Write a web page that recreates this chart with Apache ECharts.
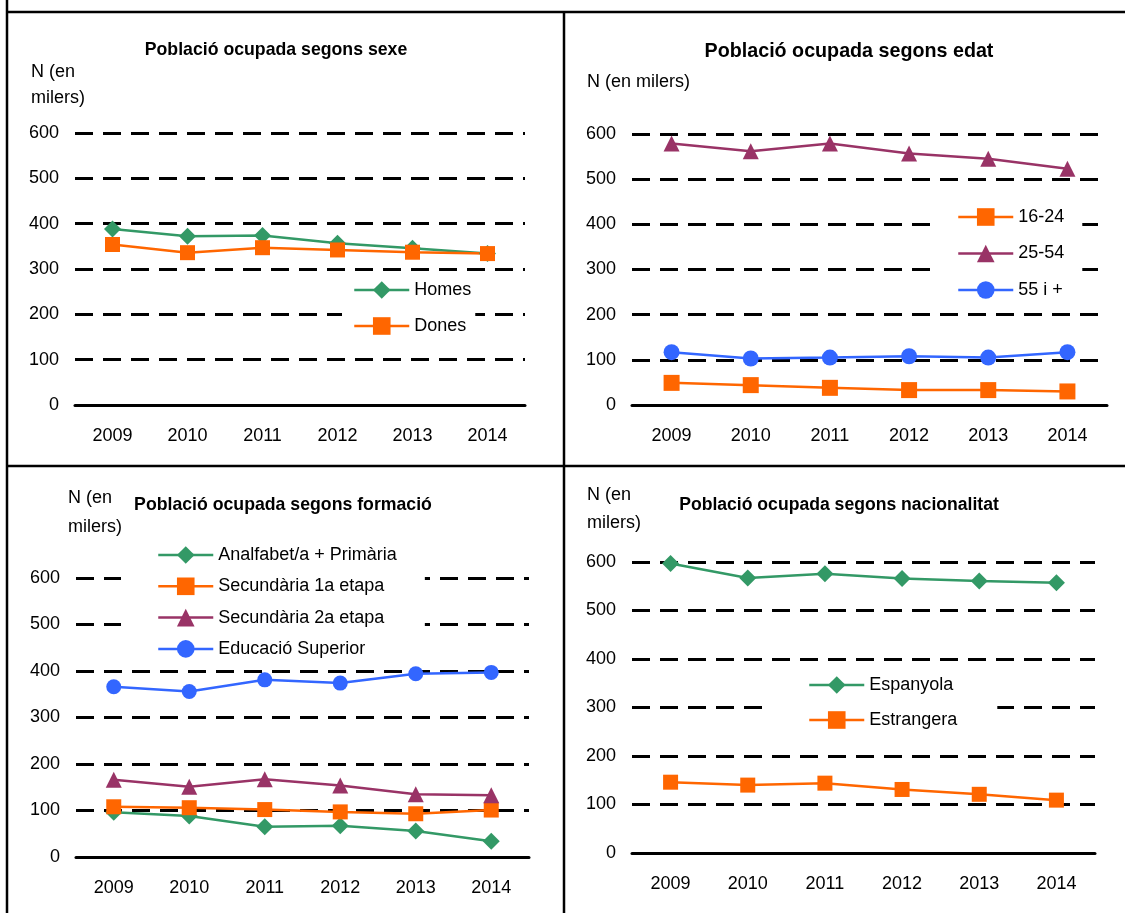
<!DOCTYPE html>
<html>
<head>
<meta charset="utf-8">
<script src="https://cdn.jsdelivr.net/npm/echarts@6/dist/echarts.min.js"></script>
<style>
  html, body { margin: 0; padding: 0; background: #fff; }
  #main { width: 1125px; height: 913px; }
</style>
</head>
<body>
<div id="main"></div>
<script>
const years = ['2009', '2010', '2011', '2012', '2013', '2014'];

// sexe
const homes = [388, 372, 374, 357, 346, 334];
const dones = [354, 336, 347, 342, 337, 334];
// edat
const age1624 = [49, 44, 38, 33, 33, 30];
const age2554 = [579, 562, 579, 557, 545, 523];
const age55 = [117, 103, 105, 108, 105, 117];
// formació
const analfabet = [96, 88, 65, 67, 56, 34];
const secundaria1 = [108, 106, 102, 97, 93, 101];
const secundaria2 = [166, 151, 167, 154, 135, 133];
const superior = [366, 356, 381, 374, 394, 397];
// nacionalitat
const espanyola = [597, 567, 576, 566, 561, 557];
const estrangera = [146, 140, 144, 131, 121, 109];

const GREEN = '#339966', ORANGE = '#ff6600', PURPLE = '#993366', BLUE = '#3366ff';
const FONT = '"Liberation Sans", Arial, sans-serif';

const grids = [
    {left: 75, top: 133, width: 450, height: 272},
    {left: 632, top: 134, width: 475, height: 271},
    {left: 76, top: 578, width: 453, height: 279},
    {left: 632, top: 562, width: 463, height: 291}
];

function xAxisFor(i) {
    return {
        type: 'category', gridIndex: i, data: years, boundaryGap: true,
        axisLine: {lineStyle: {color: '#000', width: 3}},
        axisTick: {length: 6, lineStyle: {color: '#000', width: 3}},
        axisLabel: {color: '#000', fontSize: 18, fontFamily: FONT, margin: 22}
    };
}

function yAxisFor(i) {
    return {
        type: 'value', gridIndex: i, min: 0, max: 600, interval: 100,
        axisLine: {show: false}, axisTick: {show: false},
        axisLabel: {color: '#000', fontSize: 18, fontFamily: FONT, margin: 16},
        splitLine: {lineStyle: {color: '#000', width: 3, type: [18, 10]}}
    };
}

function line(name, data, idx, color, symbol, size) {
    return {
        name: name, type: 'line', data: data, xAxisIndex: idx, yAxisIndex: idx,
        symbol: symbol, symbolSize: size, showAllSymbol: true, z: 3,
        lineStyle: {color: color, width: 2.5},
        itemStyle: {color: color},
        emphasis: {disabled: true}, animation: false
    };
}

function legendFor(names, left, top, padding, gap) {
    return {
        data: names, orient: 'vertical', left: left, top: top, align: 'left', z: 1,
        padding: padding, itemGap: gap, itemWidth: 55, itemHeight: 22,
        backgroundColor: '#fff', selectedMode: false,
        lineStyle: {width: 2.5},
        textStyle: {color: '#000', fontSize: 18, fontFamily: FONT}
    };
}

function txt(x, y, text, opts) {
    return {
        type: 'text', x: x, y: y, silent: true,
        style: Object.assign({text: text, fill: '#000', font: '18px ' + FONT,
            verticalAlign: 'middle'}, opts || {})
    };
}

function border(x1, y1, x2, y2) {
    return {type: 'line', silent: true, shape: {x1: x1, y1: y1, x2: x2, y2: y2},
        style: {stroke: '#000', lineWidth: 2.5}};
}

const chart = echarts.init(document.getElementById('main'));
chart.setOption({
    backgroundColor: '#fff',
    animation: false,
    grid: grids,
    xAxis: [0, 1, 2, 3].map(xAxisFor),
    yAxis: [0, 1, 2, 3].map(yAxisFor),
    legend: [
        legendFor(['Homes', 'Dones'], 342, 277, [4, 4, 4, 11], 18),
        legendFor(['16-24', '25-54', '55 i +'], 931, 202, [6, 18, 5, 26], 18.5),
        legendFor(['Analfabet/a + Primària', 'Secundària 1a etapa', 'Secundària 2a etapa', 'Educació Superior'],
            121, 541, [5, 28, 4, 36], 13.3),
        legendFor(['Espanyola', 'Estrangera'], 762, 671, [5, 40, 5, 46], 17)
    ],
    series: [
        line('Homes', homes, 0, GREEN, 'diamond', 17),
        line('Dones', dones, 0, ORANGE, 'rect', 15),
        line('16-24', age1624, 1, ORANGE, 'rect', 16),
        line('25-54', age2554, 1, PURPLE, 'triangle', 16),
        line('55 i +', age55, 1, BLUE, 'circle', 16),
        line('Analfabet/a + Primària', analfabet, 2, GREEN, 'diamond', 17),
        line('Secundària 1a etapa', secundaria1, 2, ORANGE, 'rect', 15),
        line('Secundària 2a etapa', secundaria2, 2, PURPLE, 'triangle', 16),
        line('Educació Superior', superior, 2, BLUE, 'circle', 15),
        line('Espanyola', espanyola, 3, GREEN, 'diamond', 17),
        line('Estrangera', estrangera, 3, ORANGE, 'rect', 15)
    ],
    graphic: [
        border(7, 0, 7, 913),
        border(7, 12, 1125, 12),
        border(7, 466, 1125, 466),
        border(564, 12, 564, 913),
        txt(276, 50, 'Població ocupada segons sexe', {font: 'bold 17.7px ' + FONT, align: 'center'}),
        txt(849, 52, 'Població ocupada segons edat', {font: 'bold 19.7px ' + FONT, align: 'center'}),
        txt(283, 505, 'Població ocupada segons formació', {font: 'bold 17.7px ' + FONT, align: 'center'}),
        txt(839, 505, 'Població ocupada segons nacionalitat', {font: 'bold 17.6px ' + FONT, align: 'center'}),
        txt(31, 72, 'N (en'),
        txt(31, 98, 'milers)'),
        txt(587, 82, 'N (en milers)'),
        txt(68, 498, 'N (en'),
        txt(68, 527, 'milers)'),
        txt(587, 495, 'N (en'),
        txt(587, 523, 'milers)')
    ]
});
</script>
</body>
</html>
